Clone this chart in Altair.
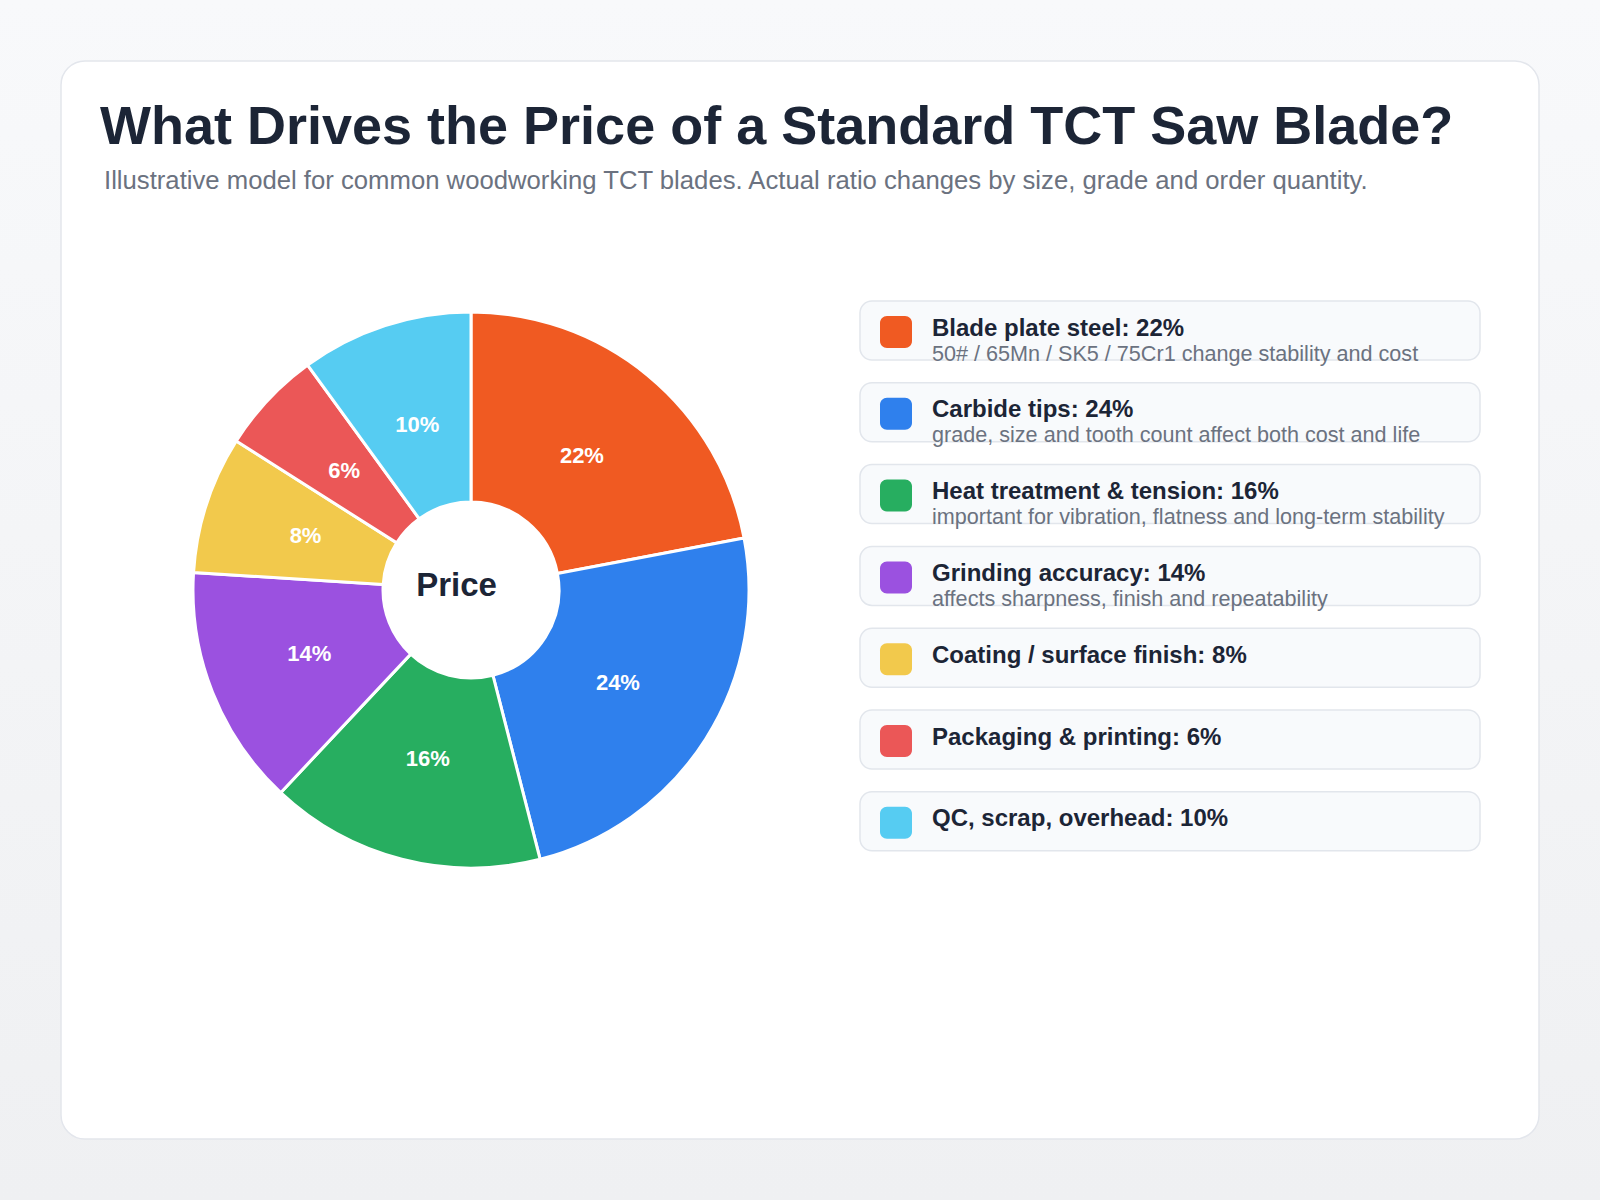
import altair as alt
import pandas as pd

# ---------------- data ----------------
categories = [
    "Blade plate steel",
    "Carbide tips",
    "Heat treatment & tension",
    "Grinding accuracy",
    "Coating / surface finish",
    "Packaging & printing",
    "QC, scrap, overhead",
]
shares = [22, 24, 16, 14, 8, 6, 10]
notes = [
    "50# / 65Mn / SK5 / 75Cr1 change stability and cost",
    "grade, size and tooth count affect both cost and life",
    "important for vibration, flatness and long-term stability",
    "affects sharpness, finish and repeatability",
    "",
    "",
    "",
]
colors = ["#F05A22", "#2F80ED", "#27AE60", "#9B51E0", "#F2C94C", "#EB5757", "#56CCF2"]

TITLE = "What Drives the Price of a Standard TCT Saw Blade?"
SUBTITLE = ("Illustrative model for common woodworking TCT blades. "
            "Actual ratio changes by size, grade and order quantity.")
CENTER_LABEL = "Price"

# ---------------- layout ----------------
W, H = 1600, 1200
CX, CY = 471, 590
R_OUT, R_IN, R_LBL = 278, 88, 174
FONT = "Liberation Sans, Arial, Helvetica, sans-serif"
DARK = "#1c2536"
GREY = "#6b7280"

ROW_TOP, ROW_STEP, ROW_H = 301, 81.8, 59
CARD_X1, CARD_X2 = 860, 1480

df = pd.DataFrame({
    "category": categories,
    "share": shares,
    "note": notes,
    "idx": list(range(len(categories))),
})
df["pct"] = df["share"].astype(str) + "%"
df["label"] = df["category"] + ": " + df["pct"]
df["top"] = ROW_TOP + df["idx"] * ROW_STEP
df["bottom"] = df["top"] + ROW_H
df["cx1"] = CARD_X1
df["cx2"] = CARD_X2
df["sx1"] = 880
df["sx2"] = 912
df["sy1"] = df["top"] + 15
df["sy2"] = df["top"] + 47
df["tx"] = 932
df["ty_main"] = df["top"] + 34.5
df["ty_note"] = df["top"] + 59.5

color_enc = alt.Color("category:N", scale=alt.Scale(domain=categories, range=colors), legend=None)
one = pd.DataFrame({"t": [0]})

# background gradient
bg = alt.Chart(one).mark_rect(
    color=alt.LinearGradient(
        gradient="linear",
        stops=[alt.GradientStop(color="#f8f9fb", offset=0),
               alt.GradientStop(color="#eff0f2", offset=1)],
        x1=0, x2=0, y1=0, y2=1,
    )
).encode(x=alt.value(0), x2=alt.value(W), y=alt.value(0), y2=alt.value(H))

card = alt.Chart(one).mark_rect(
    fill="white", stroke="#e3e6ec", strokeWidth=1.5, cornerRadius=24
).encode(x=alt.value(61), x2=alt.value(1539), y=alt.value(61), y2=alt.value(1139))

title = alt.Chart(pd.DataFrame({"t": [TITLE]})).mark_text(
    align="left", baseline="alphabetic", font=FONT, fontSize=54, fontWeight="bold", color=DARK
).encode(text="t:N", x=alt.value(100), y=alt.value(144))

subtitle = alt.Chart(pd.DataFrame({"t": [SUBTITLE]})).mark_text(
    align="left", baseline="alphabetic", font=FONT, fontSize=25.7, color=GREY
).encode(text="t:N", x=alt.value(104), y=alt.value(189))

# donut
arcs = alt.Chart(df).mark_arc(
    radius=R_OUT, innerRadius=R_IN, stroke="white", strokeWidth=3
).encode(
    theta=alt.Theta("share:Q", stack=True),
    order=alt.Order("idx:Q"),
    color=color_enc,
    x=alt.value(CX), y=alt.value(CY),
)

arc_labels = alt.Chart(df).mark_text(
    radius=R_LBL, font=FONT, fontSize=22, fontWeight="bold", color="white",
    align="center", baseline="middle"
).encode(
    theta=alt.Theta("share:Q", stack=True),
    order=alt.Order("idx:Q"),
    text="pct:N",
    x=alt.value(CX), y=alt.value(CY),
)

center = alt.Chart(pd.DataFrame({"t": [CENTER_LABEL]})).mark_text(
    align="center", baseline="alphabetic", font=FONT, fontSize=33, fontWeight="bold", color=DARK
).encode(text="t:N", x=alt.value(CX - 14.5), y=alt.value(CY + 6))

# legend cards
cards = alt.Chart(df).mark_rect(
    fill="#f8fafc", stroke="#e2e6ec", strokeWidth=1.5, cornerRadius=12
).encode(
    x=alt.X("cx1:Q", scale=None, axis=None), x2="cx2:Q",
    y=alt.Y("top:Q", scale=None, axis=None), y2="bottom:Q",
)

swatches = alt.Chart(df).mark_rect(cornerRadius=7).encode(
    x=alt.X("sx1:Q", scale=None, axis=None), x2="sx2:Q",
    y=alt.Y("sy1:Q", scale=None, axis=None), y2="sy2:Q",
    color=color_enc,
)

main_txt = alt.Chart(df).mark_text(
    align="left", baseline="alphabetic", font=FONT, fontSize=24, fontWeight="bold", color=DARK
).encode(
    x=alt.X("tx:Q", scale=None, axis=None),
    y=alt.Y("ty_main:Q", scale=None, axis=None),
    text="label:N",
)

note_txt = alt.Chart(df).transform_filter("datum.note != ''").mark_text(
    align="left", baseline="alphabetic", font=FONT, fontSize=21.6, color=GREY
).encode(
    x=alt.X("tx:Q", scale=None, axis=None),
    y=alt.Y("ty_note:Q", scale=None, axis=None),
    text="note:N",
)

chart = alt.layer(
    bg, card, title, subtitle, arcs, arc_labels, center, cards, swatches, main_txt, note_txt
).properties(
    width=W, height=H, padding=0,
    autosize=alt.AutoSizeParams(type="none"),
    background="#f8f9fb",
).configure_view(stroke=None)

chart.save("out.html", embed_options={"renderer": "svg", "actions": False})
